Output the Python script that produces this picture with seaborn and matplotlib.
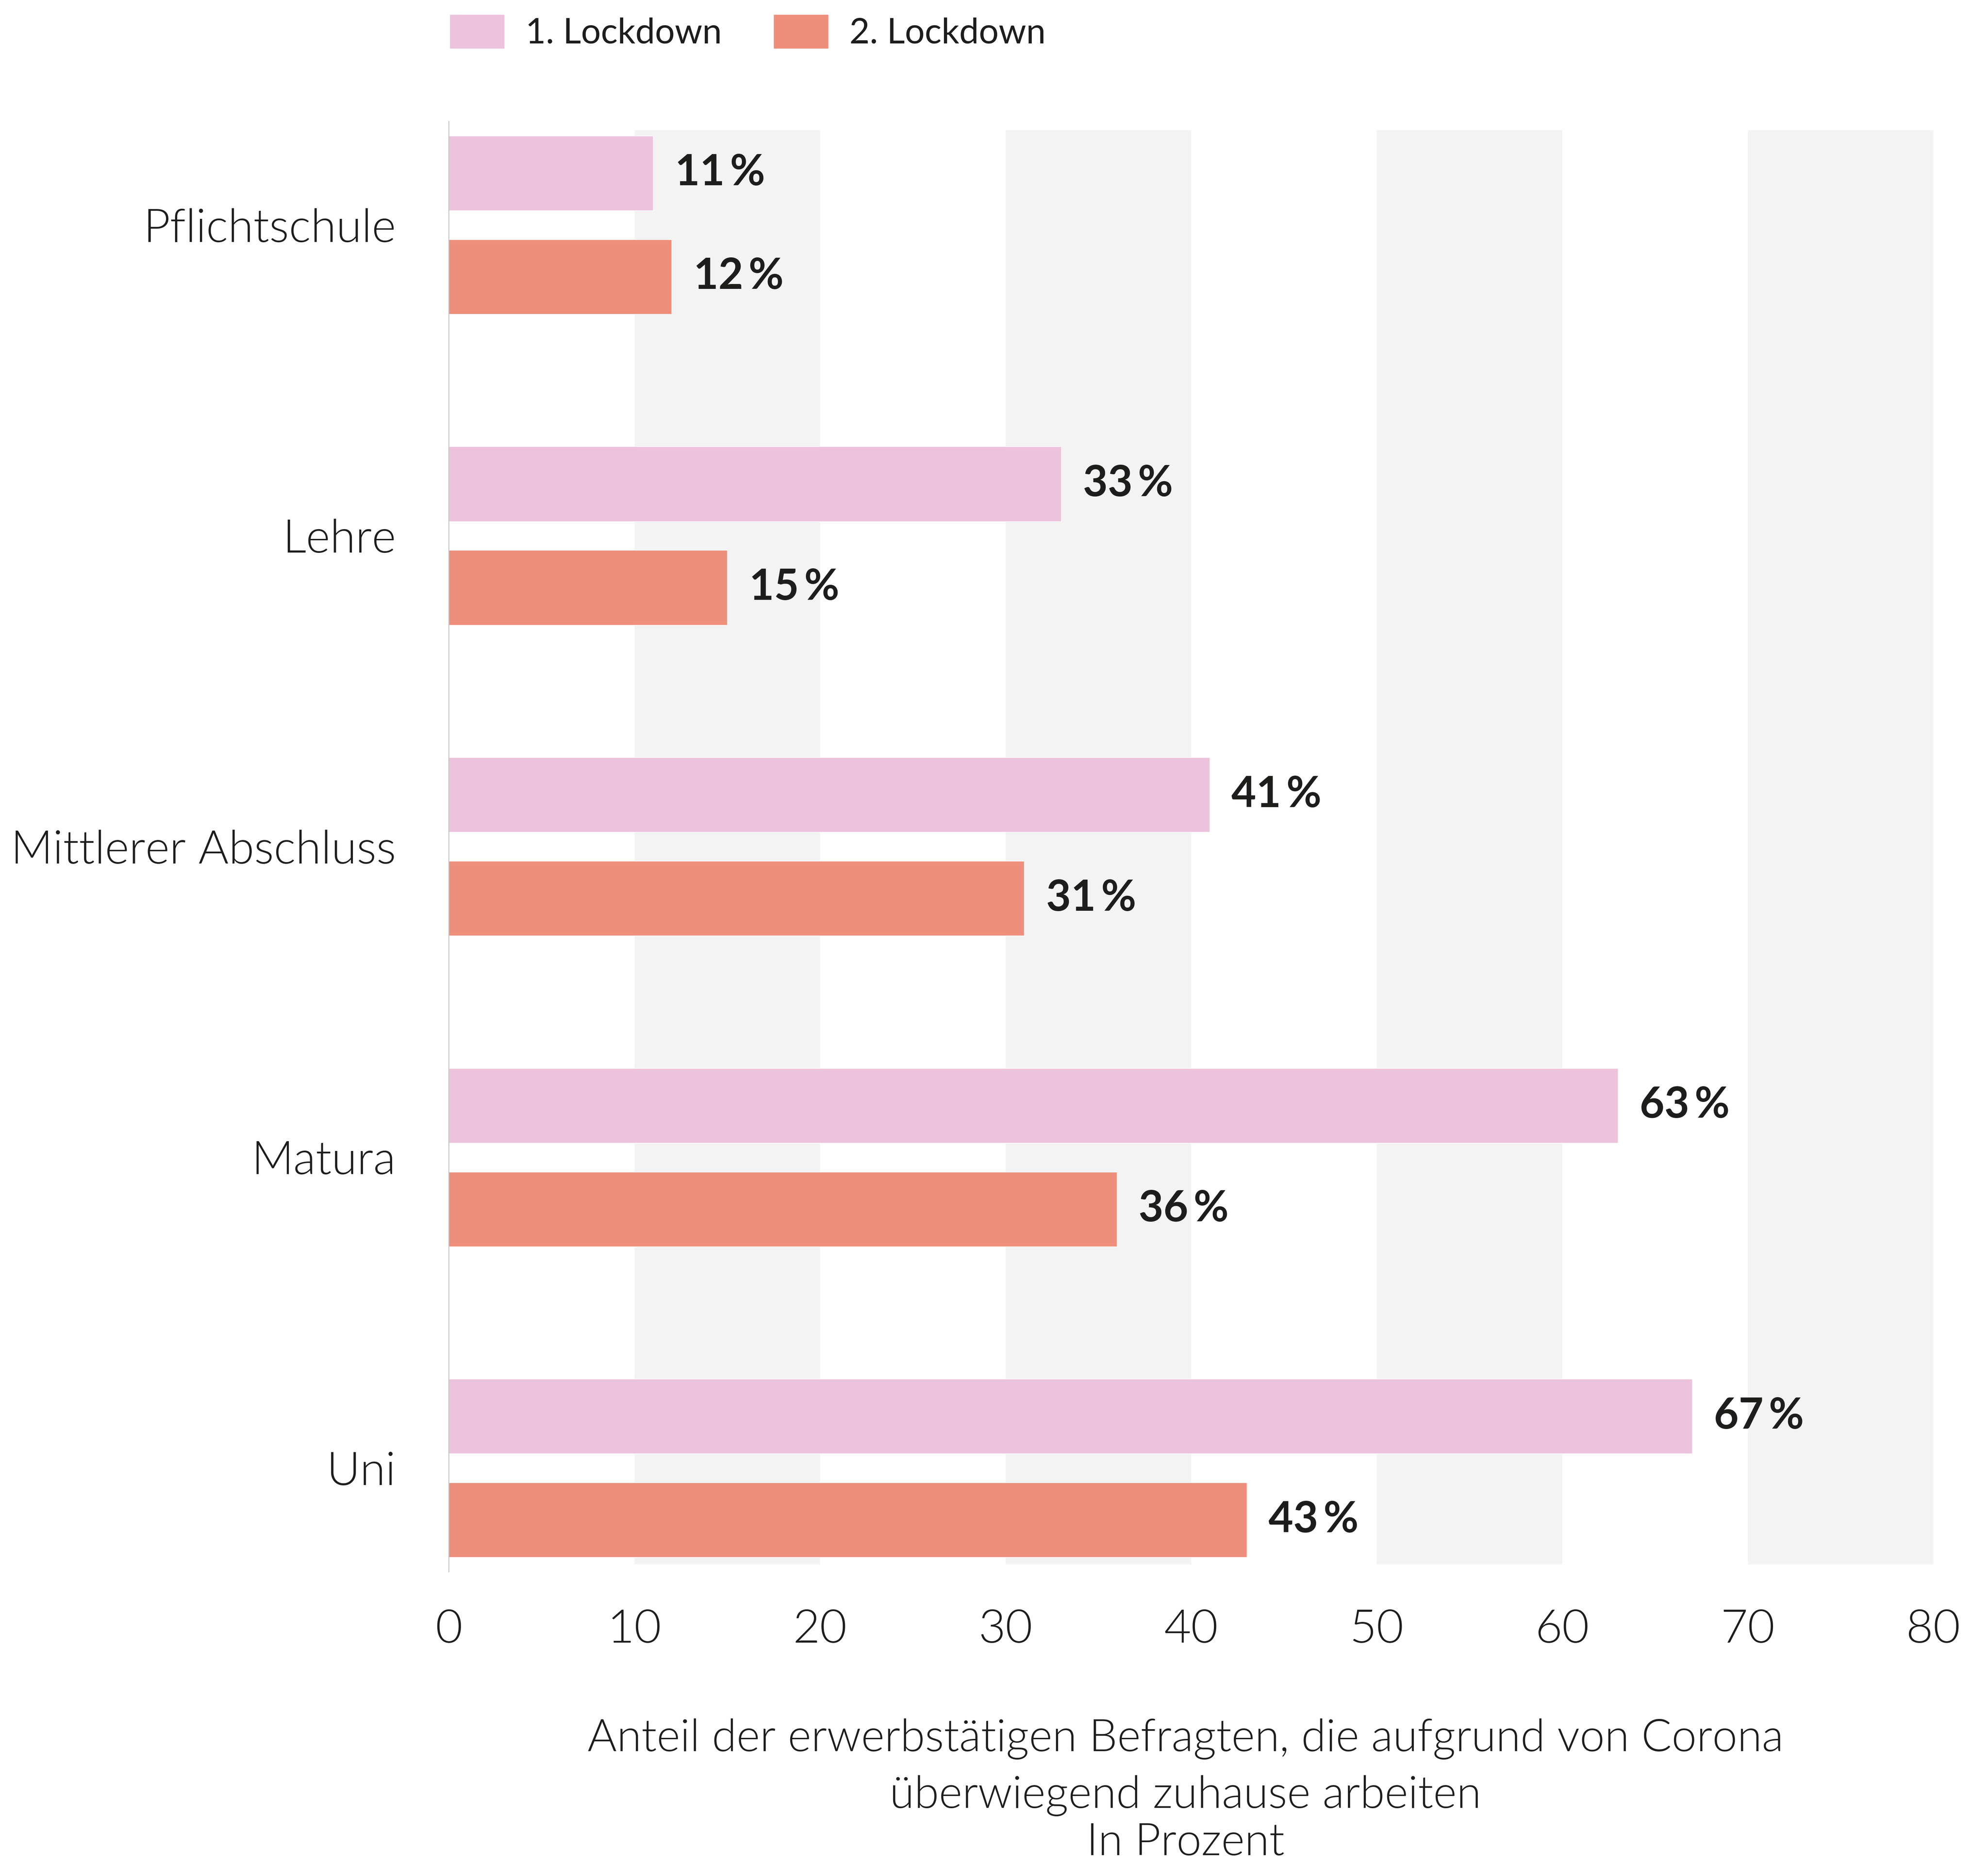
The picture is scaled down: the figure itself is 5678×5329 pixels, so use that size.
import matplotlib
matplotlib.use("Agg")
import matplotlib.pyplot as plt
import seaborn as sns
import pandas as pd

# Data
categories = ["Pflichtschule", "Lehre", "Mittlerer Abschluss", "Matura", "Uni"]
phases = ["1. Lockdown", "2. Lockdown"]
lockdown_1 = [11, 33, 41, 63, 67]
lockdown_2 = [12, 15, 31, 36, 43]
x_ticks = [0, 10, 20, 30, 40, 50, 60, 70, 80]
x_label_lines = [
    "Anteil der erwerbstätigen Befragten, die aufgrund von Corona",
    "überwiegend zuhause arbeiten",
]
unit_label = "In Prozent"

df = pd.DataFrame({
    "Abschluss": categories * 2,
    "Phase": [phases[0]] * len(categories) + [phases[1]] * len(categories),
    "Anteil": lockdown_1 + lockdown_2,
})

palette = {phases[0]: "#EDC2DC", phases[1]: "#EE8F7B"}
text_color = "#1D1D1B"

sns.set_theme(style="white")
plt.rcParams["font.family"] = ["Lato", "DejaVu Sans"]

W, H = 5678, 5329
fig = plt.figure(figsize=(W / 100, H / 100), dpi=100)
ax = fig.add_axes([0.2258, 0.1576, 0.7467, 0.7773])

# Alternating grey bands behind the bars
for lo in x_ticks[1:-1:2]:
    ax.axvspan(lo, lo + 10, ymin=0.005, ymax=0.994, color="#F3F3F3", zorder=0, lw=0)

sns.barplot(
    data=df, y="Abschluss", x="Anteil", hue="Phase", order=categories,
    hue_order=phases, palette=palette, orient="h", width=0.667, gap=0.28,
    saturation=1, ax=ax, zorder=2,
)

for container in ax.containers:
    ax.bar_label(container, fmt="%d\u2009%%", padding=45, fontsize=88,
                 fontweight="bold", color=text_color)

ax.set_xlim(0, 80)
ax.set_ylim(4.334, -0.333)
ax.set_xticks(x_ticks)
ax.set_xticklabels([str(t) for t in x_ticks])
ax.set_xlabel("")
ax.set_ylabel("")
ax.tick_params(axis="x", length=0, pad=76, labelsize=96, labelcolor=text_color)
ax.tick_params(axis="y", length=0, pad=109, labelsize=95, labelcolor=text_color)
for lbl in ax.get_xticklabels() + ax.get_yticklabels():
    lbl.set_fontweight(300)

for side in ["top", "right", "bottom"]:
    ax.spines[side].set_visible(False)
ax.spines["left"].set_color("#BDBDBD")
ax.spines["left"].set_linewidth(1.6)

sns.move_legend(
    ax, "upper left", bbox_to_anchor=(1284 / W, 1 - 41 / H),
    bbox_transform=fig.transFigure, ncol=2, title=None, frameon=False,
    fontsize=72, handlelength=1.57, handleheight=1.13, handletextpad=0.6,
    columnspacing=1.47, borderpad=0, borderaxespad=0,
)
for t in ax.get_legend().get_texts():
    t.set_color(text_color)

# Axis caption below the tick labels, one baseline per line
x_center = 3386 / W
for line, base in zip(x_label_lines, [5001, 5163]):
    fig.text(x_center, 1 - base / H, line, ha="center", va="baseline",
             fontsize=92, fontweight=300, color=text_color)
fig.text(x_center, 1 - 5298 / H, unit_label, ha="center", va="baseline",
         fontsize=92, fontweight=300, color=text_color)

fig.savefig("out.png", dpi=100, facecolor="white")
